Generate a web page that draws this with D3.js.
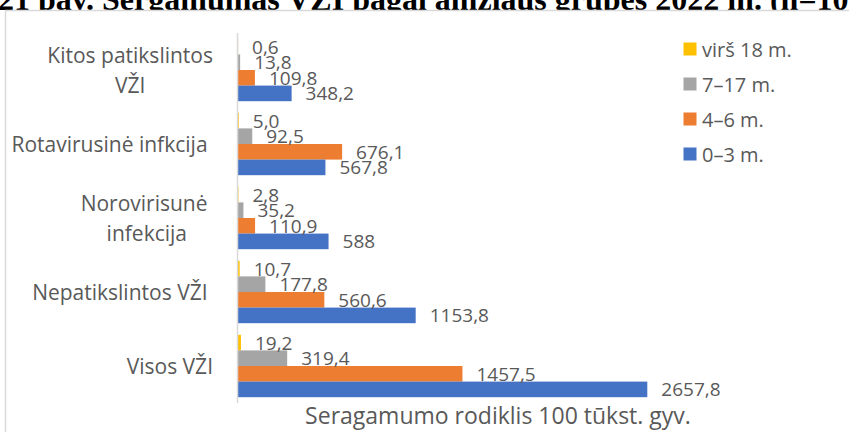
<!DOCTYPE html>
<html>
<head>
<meta charset="utf-8">
<script src="https://cdn.jsdelivr.net/npm/d3@7"></script>
<style>
  html, body { margin: 0; padding: 0; background: #ffffff; }
  svg { display: block; }
  text { font-family: "Open Sans", sans-serif; }
</style>
</head>
<body>
<svg id="chart" width="849" height="432"></svg>
<script>
// ---- data (categories top-to-bottom as shown) ----
const categories = ["Kitos patikslintos\nVŽI", "Rotavirusinė infkcija ", "Norovirisunė \ninfekcija", "Nepatikslintos VŽI ", "Visos VŽI"];
const seriesNames = ["virš 18 m.", "7–17 m.", "4–6 m.", "0–3 m."];
const seriesColors = ["#FFC000", "#A5A5A5", "#ED7D31", "#4472C4"];
const over18   = [0.6, 5.0, 2.8, 10.7, 19.2];
const age7to17 = [13.8, 92.5, 35.2, 177.8, 319.4];
const age4to6  = [109.8, 676.1, 110.9, 560.6, 1457.5];
const age0to3  = [348.2, 567.8, 588, 1153.8, 2657.8];
const labelsOver18 = ["0,6", "5,0", "2,8", "10,7", "19,2"];
const labels7to17 = ["13,8", "92,5", "35,2", "177,8", "319,4"];
const labels4to6 = ["109,8", "676,1", "110,9", "560,6", "1457,5"];
const labels0to3 = ["348,2", "567,8", "588", "1153,8", "2657,8"];
const seriesValues = [over18, age7to17, age4to6, age0to3];
const seriesLabels = [labelsOver18, labels7to17, labels4to6, labels0to3];
const titleText = "21 pav. Sergamumas VŽI pagal amžiaus grupes 2022 m. (n=100 tūkst. gyv.)";
const axisTitle = "Seragamumo rodiklis 100 tūkst. gyv.";

const svg = d3.select("#chart");
const textColor = "#595959";

// page title (mostly hidden behind the chart frame)
svg.append("text")
  .attr("x", -2).attr("y", 10)
  .style("font-family", "'Liberation Serif', 'Times New Roman', serif")
  .style("font-weight", "bold")
  .style("font-size", "32px")
  .attr("fill", "#000")
  .text(titleText);

// chart frame
svg.append("rect")
  .attr("x", 5.5).attr("y", 10.5)
  .attr("width", 900).attr("height", 500)
  .attr("fill", "#ffffff")
  .attr("stroke", "#d9d9d9").attr("stroke-width", 1.5);

// scales
const y = d3.scaleBand()
  .domain(categories)
  .range([33, 403])
  .paddingInner(0.157)
  .paddingOuter(0.0785);

const ySub = d3.scaleBand()
  .domain(seriesNames)
  .range([0, y.bandwidth()]);

const x = d3.scaleLinear().domain([0, 3000]).range([238, 700]);

// bars
const groups = svg.append("g");
seriesNames.forEach((name, si) => {
  const vals = seriesValues[si];
  groups.selectAll(null)
    .data(categories.map((c, ci) => ({ c, v: vals[ci] })))
    .enter().append("rect")
    .attr("x", x(0))
    .attr("y", d => y(d.c) + ySub(name))
    .attr("width", d => x(d.v) - x(0))
    .attr("height", ySub.bandwidth())
    .attr("fill", seriesColors[si]);
});

// category axis line
svg.append("line")
  .attr("x1", x(0) - 0.5).attr("x2", x(0) - 0.5)
  .attr("y1", 33).attr("y2", 403)
  .attr("stroke", "#d9d9d9").attr("stroke-width", 1.5);

// data labels
seriesNames.forEach((name, si) => {
  const vals = seriesValues[si];
  svg.append("g").selectAll("text")
    .data(categories.map((c, ci) => ({ c, v: vals[ci], lab: seriesLabels[si][ci] })))
    .enter().append("text")
    .attr("x", d => x(d.v) + 14)
    .attr("y", d => y(d.c) + ySub(name) + ySub.bandwidth() / 2)
    .attr("dominant-baseline", "central")
    .attr("fill", textColor)
    .style("font-size", "19px")
    .text(d => d.lab);
});

// category labels
const catRight = 213;
categories.forEach(c => {
  const lines = c.split("\n");
  const g = svg.append("g");
  const cy = y(c) + y.bandwidth() / 2;
  const lh = 30;
  const texts = lines.map((ln, i) => g.append("text")
    .attr("y", cy + (i - (lines.length - 1) / 2) * lh)
    .attr("dominant-baseline", "central")
    .attr("fill", textColor)
    .style("font-size", "21px")
    .style("white-space", "pre")
    .text(ln));
  const maxW = d3.max(texts, t => t.node().getComputedTextLength());
  const cx = catRight - maxW / 2;
  texts.forEach(t => t.attr("x", cx).attr("text-anchor", "middle"));
});

// axis title
svg.append("text")
  .attr("x", 498).attr("y", 415)
  .attr("text-anchor", "middle")
  .attr("dominant-baseline", "central")
  .attr("fill", textColor)
  .style("font-size", "23px")
  .text(axisTitle);

// legend
const legend = svg.append("g");
seriesNames.forEach((name, i) => {
  const ly = 49 + i * 35;
  legend.append("rect")
    .attr("x", 683.5).attr("y", ly - 6.5)
    .attr("width", 13).attr("height", 13)
    .attr("fill", seriesColors[i]);
  legend.append("text")
    .attr("x", 702).attr("y", ly)
    .attr("dominant-baseline", "central")
    .attr("fill", textColor)
    .style("font-size", "20px")
    .text(name);
});
</script>
</body>
</html>
